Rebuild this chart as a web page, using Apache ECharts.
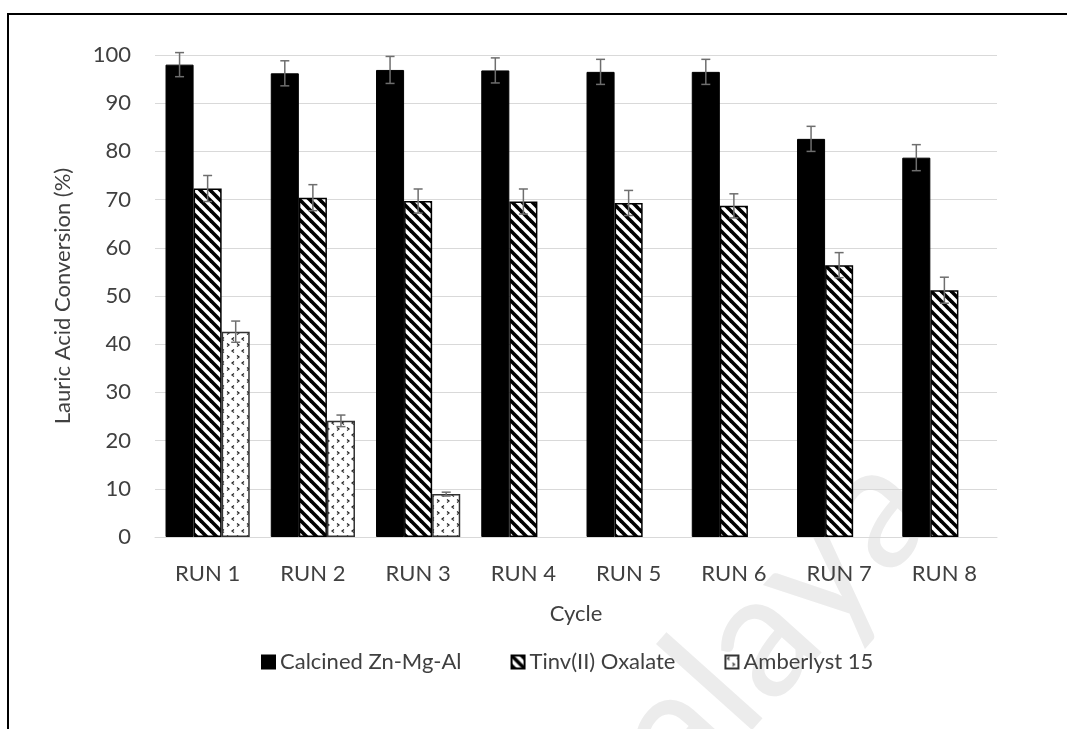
<!DOCTYPE html>
<html>
<head>
<meta charset="utf-8">
<script src="https://cdn.jsdelivr.net/npm/echarts@6/dist/echarts.min.js"></script>
<style>html,body{margin:0;padding:0;background:#fff;}#c{width:1067px;height:729px;}</style>
</head>
<body>
<div id="c"></div>
<script>
var categories = ['RUN 1','RUN 2','RUN 3','RUN 4','RUN 5','RUN 6','RUN 7','RUN 8'];
var seriesNames = ['Calcined Zn-Mg-Al','Tinv(II) Oxalate','Amberlyst 15'];
var calcined = [98.0, 96.2, 96.9, 96.8, 96.5, 96.5, 82.6, 78.7];
var calcinedErr = [2.5, 2.6, 2.8, 2.6, 2.6, 2.6, 2.6, 2.7];
var tinv = [72.3, 70.4, 69.7, 69.6, 69.3, 68.7, 56.4, 51.2];
var tinvErr = [2.7, 2.7, 2.5, 2.6, 2.6, 2.5, 2.6, 2.7];
var amberlyst = [42.6, 24.1, 8.9, null, null, null, null, null];
var amberlystErr = [2.2, 1.2, 0.4, null, null, null, null, null];
var yTicks = {min: 0, max: 100, interval: 10};

function hatchPattern(){
  var c = document.createElement('canvas'); c.width = 10; c.height = 10;
  var g = c.getContext('2d');
  g.fillStyle = '#fff'; g.fillRect(0,0,10,10);
  g.strokeStyle = '#000'; g.lineWidth = 3.6;
  for (var k=-1;k<=1;k++){ g.beginPath(); g.moveTo(k*10-2,-2); g.lineTo(k*10+12,12); g.stroke(); }
  return c;
}
function dotPattern(){
  var c = document.createElement('canvas'); c.width = 10; c.height = 12;
  var g = c.getContext('2d');
  g.fillStyle = '#fff'; g.fillRect(0,0,10,12);
  g.strokeStyle = '#222'; g.lineWidth = 1.2;
  g.beginPath(); g.moveTo(4,1.5); g.lineTo(2,3); g.lineTo(4,4.5); g.stroke();
  g.beginPath(); g.moveTo(7,7.5); g.lineTo(9,9); g.lineTo(7,10.5); g.stroke();
  return c;
}

function errRender(idx){
  return function(params, api){
    var x = api.value(0), v = api.value(1), e = api.value(2);
    if (v == null || isNaN(v)) return;
    var bandW = api.size([1,0])[0];
    var barW = bandW*0.8/3;
    var c = api.coord([x, v]);
    var cx = c[0] + (idx-1)*barW;
    var hi = api.coord([x, v+e])[1], lo = api.coord([x, v-e])[1];
    var cap = 4.5;
    var st = {stroke:'#6e6e6e', lineWidth:1.5};
    return {type:'group', children:[
      {type:'line', shape:{x1:cx,y1:hi,x2:cx,y2:lo}, style:st},
      {type:'line', shape:{x1:cx-cap,y1:hi,x2:cx+cap,y2:hi}, style:st},
      {type:'line', shape:{x1:cx-cap,y1:lo,x2:cx+cap,y2:lo}, style:st}
    ]};
  };
}
function errData(vals, errs){
  var out = [];
  for (var i=0;i<vals.length;i++){ if (vals[i]!=null) out.push([i, vals[i], errs[i]]); }
  return out;
}

var FONT = 'Lato';
var FS = 22;
var TXT = '#404040';
var chart = echarts.init(document.getElementById('c'), null, {renderer:'canvas'});
chart.setOption({
  animation: false,
  backgroundColor: '#fff',
  textStyle: {fontFamily: FONT},
  graphic: [
    {type:'text', silent:true, z:-10, x: 602, y: 944, rotation: 0.84,
     style:{text:'Malaya', font:'175px Lato', fill:'#ececec', textAlign:'left', textVerticalAlign:'bottom'}},
    {type:'rect', silent:true, z:100, shape:{x:8, y:14, width:1100, height:800}, style:{fill:'none', stroke:'#000', lineWidth:2}}
  ],
  legend: {
    data: seriesNames,
    left: 256, top: 646,
    itemWidth: 13, itemHeight: 13, itemGap: 49,
    icon: 'rect',
    textStyle: {fontFamily: FONT, fontSize: FS, color: TXT}
  },
  grid: {left: 155, right: 70, top: 55, bottom: 192},
  xAxis: {
    type: 'category', data: categories,
    name: 'Cycle', nameLocation: 'middle', nameGap: 66,
    nameTextStyle: {fontFamily: FONT, fontSize: FS, color: TXT},
    axisTick: {show:false},
    axisLine: {lineStyle:{color:'#d9d9d9', width:1}},
    axisLabel: {fontFamily: FONT, fontSize: FS, color: TXT, margin: 26}
  },
  yAxis: {
    type: 'value', min: yTicks.min, max: yTicks.max, interval: yTicks.interval,
    name: 'Lauric Acid Conversion (%)', nameLocation: 'middle', nameGap: 81,
    nameTextStyle: {fontFamily: FONT, fontSize: FS, color: TXT},
    axisLine: {show:false}, axisTick: {show:false},
    splitLine: {lineStyle:{color:'#d9d9d9', width:1}},
    axisLabel: {fontFamily: FONT, fontSize: FS, color: TXT, margin: 24}
  },
  series: [
    {name: seriesNames[0], type:'bar', data: calcined, barGap: '0%', barCategoryGap: '20%',
     itemStyle:{color:'#000', borderColor:'#000', borderWidth:1}},
    {name: seriesNames[1], type:'bar', data: tinv,
     itemStyle:{color:{image: hatchPattern(), repeat:'repeat'}, borderColor:'#000', borderWidth:1.5}},
    {name: seriesNames[2], type:'bar', data: amberlyst,
     itemStyle:{color:{image: dotPattern(), repeat:'repeat'}, borderColor:'#333', borderWidth:1.5}},
    {type:'custom', renderItem: errRender(0), data: errData(calcined, calcinedErr), z: 10, silent:true},
    {type:'custom', renderItem: errRender(1), data: errData(tinv, tinvErr), z: 10, silent:true},
    {type:'custom', renderItem: errRender(2), data: errData(amberlyst, amberlystErr), z: 10, silent:true}
  ]
});
</script>
</body>
</html>
